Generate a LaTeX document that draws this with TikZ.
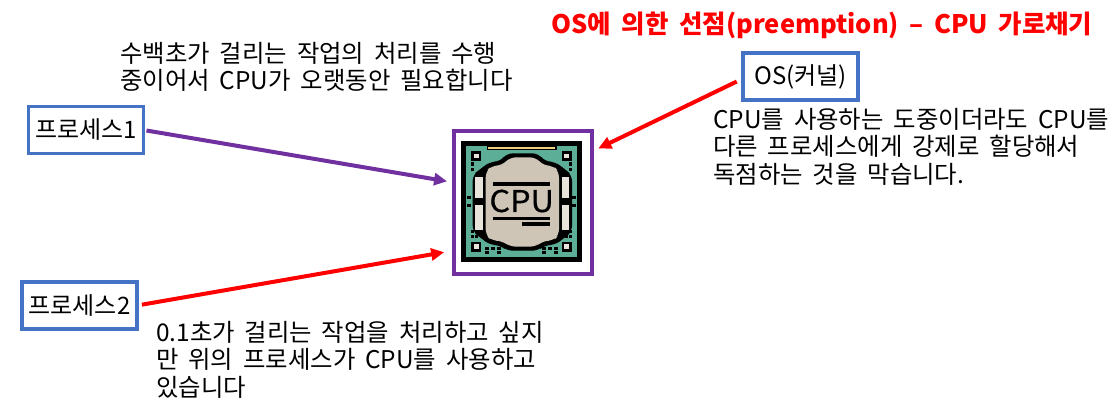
\documentclass[tikz,border=0pt]{standalone}
\usepackage{fontspec}
\setmainfont{Noto Sans CJK KR}[WordSpace=1.8]
\newfontfamily\cpufont{Noto Sans CJK KR}[FakeBold=0.6,FakeStretch=1.08]
\usetikzlibrary{arrows.meta}
\definecolor{boxblue}{HTML}{4472C4}
\definecolor{framepurple}{HTML}{7030A0}
\definecolor{boardgreen}{HTML}{5CAE97}
\definecolor{chipgrey}{HTML}{CEC5B7}
\definecolor{tabwhite}{HTML}{E8E4DC}
\definecolor{padyellow}{HTML}{F0CF80}
\tikzset{procbox/.style={draw=boxblue,line width=3.3pt,minimum width=115pt,minimum height=47pt,inner sep=0pt,outer sep=0pt,font=\fontsize{24}{27.5}\selectfont}}
\tikzset{note/.style={anchor=north west,align=left,inner sep=0pt,font=\fontsize{24.4}{27.5}\selectfont}}
\tikzset{bigarrow/.style={line width=4pt,-{Triangle[length=13pt,width=12pt]}}}

\begin{document}
\begin{tikzpicture}[x=1pt,y=-1pt]
\useasboundingbox (0,0) rectangle (1113,418);

% create the nodes
\node[anchor=center,text=red,font=\fontsize{25.5}{27}\selectfont\bfseries] (title) at (822,25) {OS에 의한 선점(preemption) – CPU 가로채기};
\node[procbox] (proc1) at (86,130) {프로세스1};
\node[procbox] (proc2) at (79.5,305.5) {프로세스2};
\node[procbox] (os) at (800.5,76.5) {OS(커널)};
\node[draw=framepurple,line width=4pt,minimum width=138pt,minimum height=143pt,outer sep=0pt] (cpu) at (523,202.5) {};

\node[note] (noteone) at (120,42) {수백초가 걸리는 작업의 처리를 수행\\중이어서 CPU가 오랫동안 필요합니다};
\node[note] (notetwo) at (156,321) {0.1초가 걸리는 작업을 처리하고 싶지\\만 위의 프로세스가 CPU를 사용하고\\있습니다};
\node[note] (notethree) at (713,108) {CPU를 사용하는 도중이더라도 CPU를\\다른 프로세스에게 강제로 할당해서\\독점하는 것을 막습니다.};

% arrows to the cpu
\draw[bigarrow,framepurple,shorten <=3pt,shorten >=7pt] (proc1.east) -- ([yshift=20pt]cpu.west);
\draw[bigarrow,red,shorten <=5pt,shorten >=10pt] (proc2.east) -- ([yshift=-48pt]cpu.west);
\draw[bigarrow,red,shorten <=7pt,shorten >=7pt] ([yshift=-2pt]os.west) -- ([yshift=51pt]cpu.east);

% the chip icon, in a 495 unit square
\begin{scope}[shift={(440,120)},scale=1/3]
\fill (63,63) rectangle (426,426);
\fill[boardgreen] (78,78) rectangle (411,411);
\draw[line width=1.2pt,fill=padyellow] (142,80) rectangle (348,88);

% outer contour
\fill[rounded corners=6pt] (200,100) -- (295,100) -- (315,125) -- (345,125) -- (375,148) -- (396,165) -- (396,335) -- (375,352) -- (345,375) -- (315,375) -- (295,392) -- (200,392) -- (180,375) -- (150,375) -- (120,352) -- (98,335) -- (98,165) -- (120,148) -- (150,125) -- (180,125) -- cycle;

% side tabs
\foreach \x in {106,366}
  \foreach \y\h in {172/62,256/74}
    \fill[tabwhite] (\x,\y) rectangle ++(22,\h);

% chip body
\fill[chipgrey,rounded corners=6pt] (210,112) -- (288,112) -- (310,137) -- (340,137) -- (357,155) -- (357,345) -- (340,362) -- (310,362) -- (288,380) -- (210,380) -- (185,362) -- (155,362) -- (137,345) -- (137,155) -- (155,137) -- (185,137) -- cycle;
\fill (158,187) rectangle (330,198);
\fill (158,290) rectangle (330,301);
\fill (245,307) rectangle (330,318);
\node[font=\fontsize{30}{30}\cpufont] (cpulabel) at (245,243) {CPU};

% corner pads
\foreach \x\y in {109/108,380/108,109/380,380/380} {
  \fill (\x-15,\y-15) rectangle (\x+15,\y+15);
  \fill[tabwhite] (\x-7,\y-7) rectangle (\x+7,\y+7);
}

% small dots
\foreach \x\y in {97/132,97/148,97/335,97/350,110/350,392/132,392/148,392/335,392/350,379/350,87/232,87/257,402/232,402/257,141/385,159/385,177/385,141/397,177/397,312/385,330/385,348/385,312/397,348/397}
  \fill (\x-5,\y-5) rectangle (\x+5,\y+5);
\end{scope}
\end{tikzpicture}
\end{document}
